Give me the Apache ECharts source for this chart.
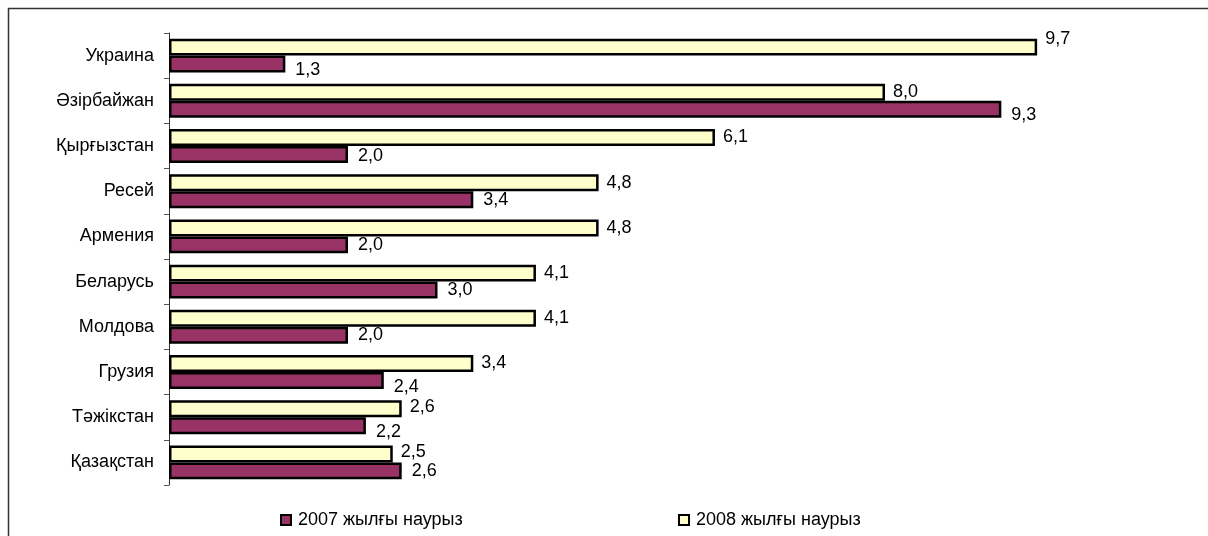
<!DOCTYPE html>
<html>
<head>
<meta charset="utf-8">
<script src="https://cdn.jsdelivr.net/npm/echarts@6/dist/echarts.min.js"></script>
<style>
html,body{margin:0;padding:0;background:#fff;}
#chart{width:1208px;height:536px;}
</style>
</head>
<body>
<div id="chart"></div>
<script>
const categories = ['Украина','Әзірбайжан','Қырғызстан','Ресей','Армения','Беларусь','Молдова','Грузия','Тәжікстан','Қазақстан'];
const values2007 = [1.3, 9.3, 2.0, 3.4, 2.0, 3.0, 2.0, 2.4, 2.2, 2.6];
const values2008 = [9.7, 8.0, 6.1, 4.8, 4.8, 4.1, 4.1, 3.4, 2.6, 2.5];
const seriesNames = ['2007 жылғы наурыз', '2008 жылғы наурыз'];

// vertical nudges of value labels (px), as placed in the original
const labelNudge2007 = [6, 6, 2, 0, 0, 0, 0, 7, 6, 0];
const labelNudge2008 = [-8, 0, 0, 0, 0, 0, 0, 0, -2, -2];

const FONT = '"Liberation Sans", Arial, sans-serif';
const FS = 18;
const fmt = p => p.value.toFixed(1).replace('.', ',');

function withNudge(values, nudges) {
  return values.map((v, i) => ({ value: v, label: { offset: [0, nudges[i]] } }));
}

const chart = echarts.init(document.getElementById('chart'));
chart.setOption({
  animation: false,
  backgroundColor: '#ffffff',
  textStyle: { fontFamily: FONT },
  graphic: [{
    type: 'rect',
    shape: { x: 8.5, y: 8.5, width: 1250, height: 600 },
    style: { fill: 'none', stroke: '#333', lineWidth: 1.5 },
    silent: true, z: -1
  }],
  grid: { left: 169, top: 33, height: 452, right: 144, containLabel: false },
  xAxis: { type: 'value', min: 0, max: 10, show: false },
  yAxis: {
    type: 'category', data: categories, inverse: true,
    axisLine: { show: true, lineStyle: { color: '#333', width: 1 } },
    axisTick: { show: true, length: 5, lineStyle: { color: '#555' } },
    axisLabel: { color: '#000', fontSize: FS, fontFamily: FONT, margin: 15 }
  },
  legend: [
    {
      data: [seriesNames[0]], left: 275, top: 506,
      icon: 'rect', itemWidth: 10, itemHeight: 10, itemGap: 10,
      textStyle: { color: '#000', fontSize: FS, fontFamily: FONT, padding: [0, 0, 0, 2] },
      itemStyle: { borderColor: '#000', borderWidth: 2 }
    },
    {
      data: [seriesNames[1]], left: 673, top: 506,
      icon: 'rect', itemWidth: 10, itemHeight: 10, itemGap: 10,
      textStyle: { color: '#000', fontSize: FS, fontFamily: FONT, padding: [0, 0, 0, 2] },
      itemStyle: { borderColor: '#000', borderWidth: 2 }
    }
  ],
  series: [
    {
      name: seriesNames[1], type: 'bar', data: withNudge(values2008, labelNudge2008),
      barGap: '0%', barCategoryGap: '25%',
      itemStyle: { color: '#FFFFCC', borderColor: '#000', borderWidth: 2.5 },
      label: { show: true, position: 'right', distance: 8, formatter: fmt, color: '#000', fontSize: FS, fontFamily: FONT }
    },
    {
      name: seriesNames[0], type: 'bar', data: withNudge(values2007, labelNudge2007),
      barGap: '0%', barCategoryGap: '25%',
      itemStyle: { color: '#993366', borderColor: '#000', borderWidth: 2.5 },
      label: { show: true, position: 'right', distance: 10, formatter: fmt, color: '#000', fontSize: FS, fontFamily: FONT }
    }
  ]
});
</script>
</body>
</html>
